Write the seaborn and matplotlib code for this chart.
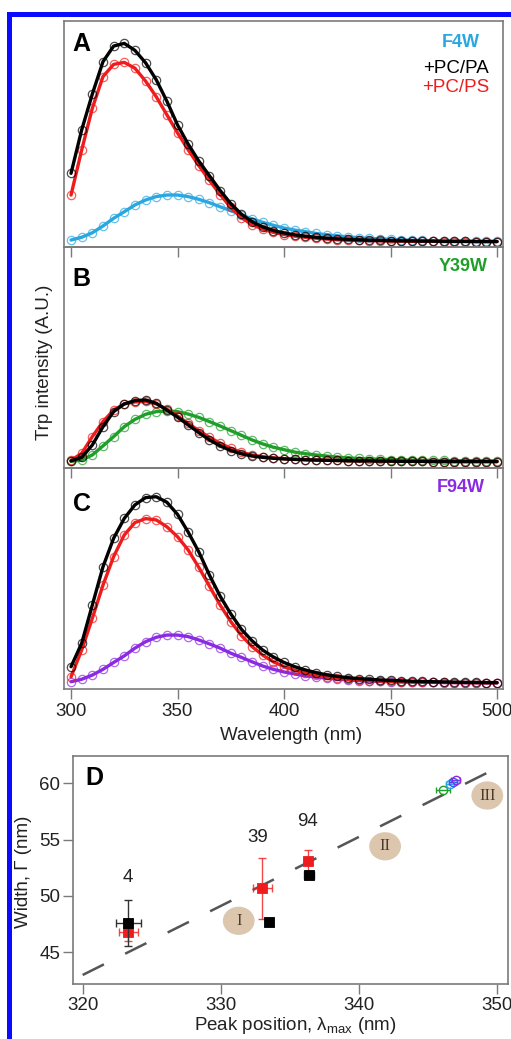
import matplotlib
matplotlib.use("Agg")
import matplotlib.pyplot as plt
from matplotlib.patches import Ellipse, Rectangle
import seaborn as sns

# ---- spectra (A-C): wavelength grid and intensities (A.U., % of panel height)
wavelength = list(range(300, 501, 5))

f4w_free = [3.1, 4.3, 6.3, 9.3, 12.7, 15.6, 18.6, 20.8, 22.3, 23.0,
            23.0, 22.3, 21.1, 19.6, 17.8, 16.1, 14.2, 12.4, 10.9, 9.6,
            8.4, 7.5, 6.8, 6.0, 5.4, 4.9, 4.5, 4.1, 3.8, 3.6,
            3.4, 3.2, 3.0, 2.9, 2.8, 2.7, 2.6, 2.6, 2.5, 2.5, 2.5]
f4w_pa = [32.6, 51.8, 67.7, 82.0, 88.9, 90.1, 87.0, 81.5, 74.0, 64.5,
          54.0, 45.5, 38.0, 31.5, 25.0, 19.2, 14.5, 11.2, 8.9, 7.3,
          6.2, 5.4, 4.8, 4.3, 3.9, 3.6, 3.4, 3.2, 3.0, 2.9,
          2.8, 2.7, 2.7, 2.6, 2.6, 2.5, 2.5, 2.5, 2.4, 2.4, 2.4]
f4w_ps = [23.0, 42.9, 61.4, 75.4, 80.8, 81.7, 79.1, 73.4, 66.5, 58.5,
          50.5, 43.0, 36.0, 29.5, 23.2, 17.5, 13.0, 9.9, 7.9, 6.5,
          5.5, 4.8, 4.3, 3.9, 3.5, 3.2, 3.0, 2.9, 2.8, 2.7,
          2.6, 2.6, 2.5, 2.5, 2.5, 2.4, 2.4, 2.4, 2.4, 2.4, 2.4]

y39w_free = [3.0, 3.6, 5.9, 10.0, 14.2, 18.7, 22.0, 24.3, 25.5, 25.8,
             25.5, 24.4, 22.9, 21.0, 19.0, 16.9, 14.8, 12.7, 10.9, 9.4,
             8.3, 7.2, 6.5, 5.9, 5.4, 4.9, 4.6, 4.3, 4.1, 4.0,
             3.8, 3.7, 3.6, 3.5, 3.4, 3.4, 3.3, 3.3, 3.3, 3.2, 3.2]
y39w_pa = [3.2, 4.8, 10.4, 18.7, 25.5, 29.0, 30.5, 30.8, 29.3, 26.2,
           23.0, 19.5, 16.0, 12.7, 10.0, 7.9, 6.4, 5.4, 4.8, 4.4,
           4.1, 3.9, 3.7, 3.6, 3.5, 3.4, 3.3, 3.2, 3.2, 3.1,
           3.1, 3.0, 3.0, 3.0, 2.9, 2.9, 2.9, 2.9, 2.9, 2.9, 2.9]
y39w_ps = [3.5, 6.6, 14.2, 21.0, 26.2, 29.0, 29.9, 30.1, 29.0, 26.6,
           23.5, 20.2, 16.9, 13.9, 11.2, 8.9, 7.1, 5.9, 5.1, 4.6,
           4.2, 4.0, 3.8, 3.6, 3.5, 3.4, 3.3, 3.2, 3.2, 3.1,
           3.1, 3.0, 3.0, 3.0, 2.9, 2.9, 2.9, 2.9, 2.9, 2.9, 2.9]

f94w_free = [3.3, 4.4, 6.3, 8.9, 12.0, 15.0, 18.5, 21.4, 23.4, 24.4,
             24.4, 23.7, 22.2, 20.4, 18.5, 16.2, 14.3, 12.3, 10.4, 8.9,
             7.7, 6.8, 6.0, 5.4, 4.9, 4.5, 4.1, 3.8, 3.6, 3.4,
             3.3, 3.2, 3.1, 3.0, 3.0, 2.9, 2.9, 2.8, 2.8, 2.8, 2.8]
f94w_pa = [10.1, 20.7, 38.0, 55.3, 68.2, 77.2, 83.3, 86.6, 87.0, 84.5,
           79.0, 71.0, 62.0, 51.5, 42.0, 34.0, 27.0, 21.8, 17.6, 14.5,
           12.0, 10.1, 8.6, 7.4, 6.4, 5.7, 5.1, 4.7, 4.4, 4.1,
           3.9, 3.7, 3.5, 3.4, 3.3, 3.2, 3.1, 3.0, 3.0, 2.9, 2.9]
f94w_ps = [5.5, 17.6, 32.0, 47.0, 59.9, 69.7, 75.3, 77.1, 76.5, 73.4,
           68.9, 62.9, 55.0, 46.5, 38.0, 30.5, 24.2, 19.2, 15.3, 12.3,
           10.1, 8.5, 7.2, 6.2, 5.4, 4.8, 4.4, 4.0, 3.8, 3.6,
           3.4, 3.3, 3.2, 3.1, 3.0, 3.0, 2.9, 2.9, 2.8, 2.8, 2.8]

# ---- panel D: peak position vs width
pa_peak = [323.3, 333.5, 336.4]
pa_width = [47.6, 47.7, 51.9]
pa_peak_err = [0.9, 0.15, 0.35]
pa_width_err = [2.0, 0.15, 0.3]
ps_peak = [323.3, 333.0, 336.3]
ps_width = [46.8, 50.7, 53.1]
ps_peak_err = [0.7, 0.7, 0.25]
ps_width_err = [0.8, 2.7, 1.0]
site_labels = ["4", "39", "94"]
site_label_x = [323.3, 332.7, 336.3]
site_label_y = [51.6, 55.2, 56.6]
free_peak = [346.1, 346.6, 346.8, 347.0]
free_width = [59.4, 59.9, 60.1, 60.3]
free_peak_err = [0.5, 0.3, 0.3, 0.3]
trend_x = [320.0, 350.5]
trend_y = [43.0, 61.65]
class_labels = ["I", "II", "III"]
class_x = [331.3, 341.9, 349.3]
class_y = [47.8, 54.4, 58.9]

RED = "#ee1c1c"
CYAN = "#2aa7e0"
GREEN = "#1f9e2a"
PURPLE = "#8a2be2"
BLUE = "#3b55f0"
SPINE = "#7a7a7a"
TXT = "#222222"

sns.set_theme(style="ticks")
plt.rcParams["font.family"] = ["Liberation Sans", "DejaVu Sans"]
plt.rcParams["mathtext.fontset"] = "custom"
plt.rcParams["mathtext.rm"] = "Liberation Sans"

W, H = 511, 1039
fig = plt.figure(figsize=(W / 100, H / 100), dpi=100)
fig.patch.set_facecolor("white")


def box(l, t, r, b):
    return [l / W, 1 - b / H, (r - l) / W, (b - t) / H]


axA = fig.add_axes(box(64, 21, 503, 247))
axB = fig.add_axes(box(64, 247, 503, 468))
axC = fig.add_axes(box(64, 468, 503, 689))
axD = fig.add_axes(box(73, 756, 508, 984))

panels = [
    (axA, "A", 0.953, "F4W", CYAN, f4w_free, f4w_pa, f4w_ps),
    (axB, "B", 0.909, "Y39W", GREEN, y39w_free, y39w_pa, y39w_ps),
    (axC, "C", 0.89, "F94W", PURPLE, f94w_free, f94w_pa, f94w_ps),
]

for ax, letter, ly, name, col, free, pa, ps in panels:
    for vals, c in [(free, col), (ps, RED), (pa, "black")]:
        sns.lineplot(x=wavelength, y=vals, ax=ax, color=c, linestyle="",
                     marker="o", mfc="none", mec=c, mew=0.9, ms=6, alpha=0.7)
        sns.lineplot(x=wavelength, y=vals, ax=ax, color=c, lw=2.4)
    ax.set_xlim(296.7, 502.8)
    ax.set_ylim(0, 100)
    ax.set_yticks([])
    ax.set_xticks([300, 350, 400, 450, 500])
    ax.set_xlabel("")
    ax.set_ylabel("")
    ax.patch.set_visible(False)
    ax.tick_params(axis="x", direction="out", length=7, width=1, color=SPINE,
                   labelsize=13.5, labelcolor=TXT, pad=3)
    for s in ax.spines.values():
        s.set_color(SPINE)
        s.set_linewidth(1.2)
    ax.text(0.02, ly, letter, transform=ax.transAxes, fontsize=18,
            fontweight="bold", va="top", ha="left", color="black")

axA.tick_params(labelbottom=False)
axB.tick_params(labelbottom=False)

axA.text(0.948, 0.907, "F4W", transform=axA.transAxes, ha="right", va="center",
         fontsize=13, fontweight="bold", color=CYAN)
axA.text(0.968, 0.792, "+PC/PA", transform=axA.transAxes, ha="right", va="center",
         fontsize=13.5, color="black")
axA.text(0.970, 0.704, "+PC/PS", transform=axA.transAxes, ha="right", va="center",
         fontsize=13.5, color=RED)
axB.text(0.964, 0.91, "Y39W", transform=axB.transAxes, ha="right", va="center",
         fontsize=13, fontweight="bold", color=GREEN)
axC.text(0.959, 0.912, "F94W", transform=axC.transAxes, ha="right", va="center",
         fontsize=13, fontweight="bold", color=PURPLE)

fig.text(45 / W, 1 - 362 / H, "Trp intensity (A.U.)", rotation=90,
         ha="center", va="center", fontsize=13.5, color=TXT)
fig.text(291 / W, 1 - 736 / H, "Wavelength (nm)", ha="center", va="center",
         fontsize=13.5, color=TXT)

# ---- panel D
for x, y, lab in zip(class_x, class_y, class_labels):
    axD.add_patch(Ellipse((x, y), width=2.3, height=2.5, fc="#dcc6ad",
                          ec="none", zorder=1))
    axD.text(x, y, lab, ha="center", va="center", fontsize=12,
             family="Liberation Serif", color="#4d3b2a", zorder=2)

sns.lineplot(x=trend_x, y=trend_y, ax=axD, color="#555555", lw=1.8,
             linestyle=(0, (9.5, 9.5)))

axD.errorbar(ps_peak, ps_width, xerr=ps_peak_err, yerr=ps_width_err, fmt="none",
             ecolor=RED, elinewidth=1, capsize=3, capthick=1, alpha=0.8, zorder=3)
sns.scatterplot(x=ps_peak, y=ps_width, ax=axD, marker="s", s=55, color=RED,
                edgecolor=RED, zorder=4)
axD.errorbar(pa_peak, pa_width, xerr=pa_peak_err, yerr=pa_width_err, fmt="none",
             ecolor="#333333", elinewidth=1, capsize=3, capthick=1, zorder=5)
sns.scatterplot(x=pa_peak, y=pa_width, ax=axD, marker="s", s=60, color="black",
                edgecolor="black", zorder=6)

for x, y, xe, c in zip(free_peak, free_width, free_peak_err,
                       [GREEN, CYAN, BLUE, PURPLE]):
    axD.errorbar([x], [y], xerr=[xe], fmt="o", mfc="none", mec=c, ecolor=c,
                 ms=6, mew=1, elinewidth=1, capsize=2, zorder=4)

for x, y, lab in zip(site_label_x, site_label_y, site_labels):
    axD.text(x, y, lab, ha="center", va="center", fontsize=13.5, color=TXT)

axD.text(0.028, 0.955, "D", transform=axD.transAxes, fontsize=18,
         fontweight="bold", va="top", ha="left", color="black")

axD.set_xlim(319.3, 350.8)
axD.set_ylim(42.2, 62.4)
axD.set_xticks([320, 330, 340, 350])
axD.set_yticks([45, 50, 55, 60])
axD.set_xlabel("")
axD.set_ylabel("")
axD.tick_params(direction="out", length=7, width=1, color=SPINE,
                labelsize=13.5, labelcolor=TXT, pad=2)
for s in axD.spines.values():
    s.set_color(SPINE)
    s.set_linewidth(1.2)

fig.text(24 / W, 1 - 872 / H, "Width, \u0393 (nm)", rotation=90,
         ha="center", va="center", fontsize=13.5, color=TXT)
fig.text(295 / W, 1 - 1030 / H, "Peak position, \u03bb$_\\mathregular{max}$ (nm)",
         ha="center", va="baseline", fontsize=13.5, color=TXT)

# blue frame (top and left edges)
fig.add_artist(Rectangle((7 / W, 1 - 17 / H), 1 - 7 / W, 5 / H,
                         transform=fig.transFigure, color="#0a0aff", lw=0))
fig.add_artist(Rectangle((7 / W, 0), 5 / W, 1 - 12 / H,
                         transform=fig.transFigure, color="#0a0aff", lw=0))

fig.savefig("out.png", dpi=100)
